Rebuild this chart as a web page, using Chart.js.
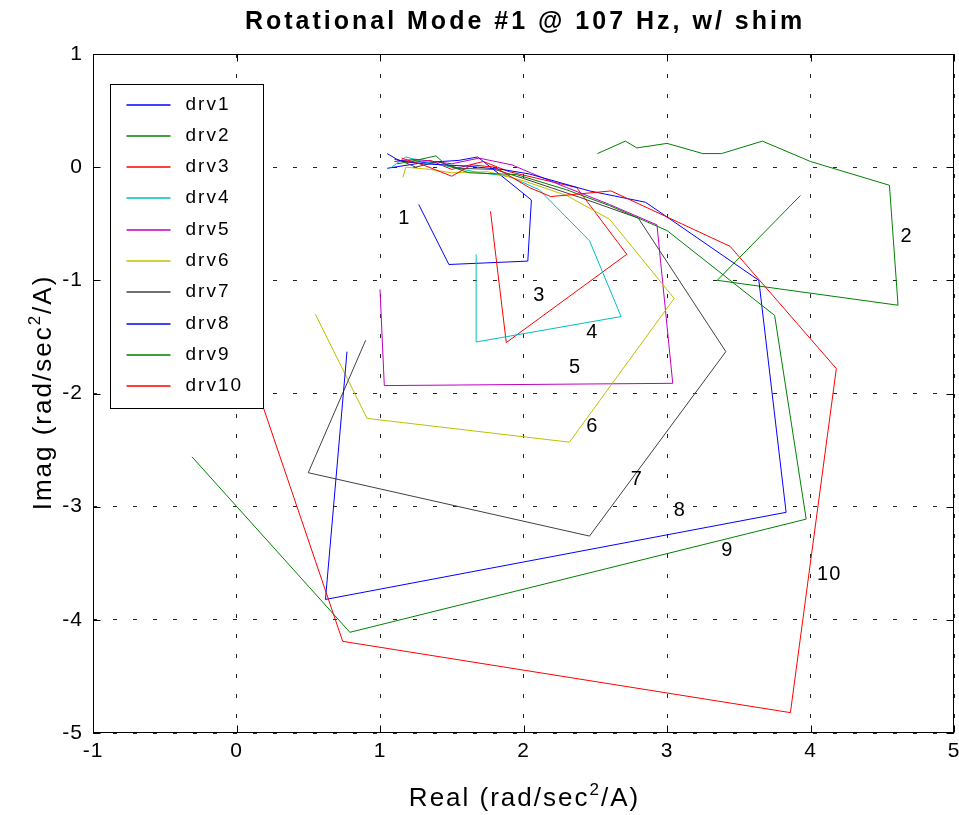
<!DOCTYPE html>
<html>
<head>
    <title>Rotational Mode #1 @ 107 Hz, w/ shim</title>
    <script src="https://cdn.jsdelivr.net/npm/chart.js"></script>
    <style>
        body { margin: 0; background: #fff; }
        canvas { display: block; }
    </style>
</head>
<body>
    <canvas id="myChart" width="959" height="815"></canvas>
    <script>
        // Points, [real, imag]
        const drv1 = [[1.05, -0.01], [1.3, 0.04], [1.55, 0.06], [1.68, 0.09], [1.85, -0.08], [2.055, -0.29], [2.03, -0.83], [1.48, -0.86], [1.27, -0.33]];
        const drv2 = [[2.515, 0.12], [2.71, 0.23], [2.79, 0.17], [3.0, 0.21], [3.25, 0.12], [3.38, 0.12], [3.665, 0.23], [4.0, 0.05], [4.55, -0.16], [4.61, -1.22], [3.35, -1.0], [3.93, -0.25]];
        const drv3 = [[1.1, 0.07], [1.2, 0.04], [1.35, 0.06], [1.5, -0.02], [1.72, 0.05], [1.9, -0.04], [2.1, -0.1], [2.37, -0.18], [2.72, -0.77], [1.88, -1.55], [1.77, -0.39]];
        const drv4 = [[1.08, 0.0], [1.18, 0.09], [1.3, 0.05], [1.5, 0.0], [1.7, -0.05], [1.9, -0.08], [2.11, -0.2], [2.46, -0.65], [2.68, -1.32], [1.67, -1.545], [1.67, -0.77]];
        const drv5 = [[1.1, 0.05], [1.25, 0.07], [1.5, 0.03], [1.69, 0.08], [1.92, 0.02], [2.05, -0.05], [2.3, -0.18], [2.6, -0.33], [2.93, -0.51], [3.04, -1.91], [1.03, -1.93], [1.0, -1.08]];
        const drv6 = [[1.16, -0.09], [1.18, 0.0], [1.35, -0.02], [1.5, -0.05], [1.75, -0.04], [2.0, -0.12], [2.3, -0.25], [2.6, -0.46], [3.05, -1.16], [2.32, -2.43], [0.91, -2.22], [0.55, -1.3]];
        const drv7 = [[1.12, 0.07], [1.25, 0.0], [1.4, 0.05], [1.55, -0.01], [1.8, -0.02], [2.0, -0.1], [2.4, -0.27], [2.8, -0.45], [3.41, -1.63], [2.46, -3.26], [0.5, -2.7], [0.9, -1.53]];
        const drv8 = [[1.05, 0.12], [1.13, 0.06], [1.3, 0.03], [1.6, 0.01], [1.85, -0.02], [2.04, -0.06], [2.46, -0.21], [2.85, -0.31], [3.0, -0.44], [3.64, -1.0], [3.83, -3.05], [0.62, -3.82], [0.77, -1.63]];
        const drv9 = [[1.12, 0.03], [1.25, 0.06], [1.39, 0.1], [1.46, 0.02], [1.62, -0.05], [1.95, -0.065], [2.3, -0.2], [2.6, -0.34], [2.8, -0.45], [3.0, -0.56], [3.75, -1.31], [3.97, -3.11], [0.79, -4.11], [-0.31, -2.56]];
        const drv10 = [[1.15, 0.08], [1.3, 0.02], [1.5, -0.08], [1.64, 0.02], [1.8, 0.0], [2.04, -0.18], [2.19, -0.26], [2.61, -0.21], [3.44, -0.7], [4.18, -1.78], [3.86, -4.82], [0.74, -4.19], [0.02, -1.5]];

        const seriesNames = ['drv1', 'drv2', 'drv3', 'drv4', 'drv5', 'drv6', 'drv7', 'drv8', 'drv9', 'drv10'];
        const seriesColors = ['#0000ff', '#008000', '#ff0000', '#00bfbf', '#bf00bf', '#bfbf00', '#404040', '#0000ff', '#008000', '#ff0000'];

        // the numbers written next to each loop
        const curveNames = ['1', '2', '3', '4', '5', '6', '7', '8', '9', '10'];
        const curveNameRe = [1.17, 4.67, 2.11, 2.48, 2.36, 2.48, 2.79, 3.09, 3.42, 4.13];
        const curveNameIm = [-0.45, -0.61, -1.13, -1.46, -1.77, -2.29, -2.76, -3.03, -3.39, -3.6];

        const xTicks = [-1, 0, 1, 2, 3, 4, 5];
        const yTicks = [-5, -4, -3, -2, -1, 0, 1];

        const FONT = "'Liberation Sans', Arial, Helvetica, sans-serif";

        function runWidth(ctx, r, spacing) {
            ctx.font = (r.bold ? 'bold ' : '') + r.size + 'px ' + FONT;
            ctx.letterSpacing = '0px';
            return ctx.measureText(r.text).width + spacing * r.text.length;
        }

        // centred text made of runs, so the "2" can be a superscript
        function drawRuns(ctx, runs, cx, baseY, spacing) {
            const widths = runs.map(r => runWidth(ctx, r, spacing));
            const total = widths.reduce((a, b) => a + b, 0) - spacing;
            let x = cx - total / 2;
            ctx.textAlign = 'left';
            ctx.textBaseline = 'alphabetic';
            ctx.letterSpacing = spacing + 'px';
            runs.forEach((r, i) => {
                ctx.font = (r.bold ? 'bold ' : '') + r.size + 'px ' + FONT;
                ctx.fillText(r.text, x, baseY + (r.dy || 0));
                x += widths[i];
            });
        }

        const matlabLook = {
            id: 'matlabLook',
            beforeDraw(chart) {
                chart.ctx.letterSpacing = '1px';
            },
            afterDraw(chart) {
                const ctx = chart.ctx;
                const area = chart.chartArea;
                const xs = chart.scales.x, ys = chart.scales.y;
                const L = Math.round(area.left) + 0.5, R = Math.round(area.right) - 0.5;
                const T = Math.round(area.top) + 0.5, B = Math.round(area.bottom) - 0.5;

                ctx.save();
                ctx.strokeStyle = '#000';
                ctx.lineWidth = 1;
                ctx.setLineDash([]);
                ctx.strokeRect(L, T, R - L, B - T);

                // tick marks on the inside of every side
                ctx.beginPath();
                xTicks.forEach(v => {
                    const px = Math.round(xs.getPixelForValue(v)) + 0.5;
                    ctx.moveTo(px, B); ctx.lineTo(px, B - 7);
                    ctx.moveTo(px, T); ctx.lineTo(px, T + 7);
                });
                yTicks.forEach(v => {
                    const py = Math.round(ys.getPixelForValue(v)) + 0.5;
                    ctx.moveTo(L, py); ctx.lineTo(L + 7, py);
                    ctx.moveTo(R, py); ctx.lineTo(R - 7, py);
                });
                ctx.stroke();

                // loop numbers
                ctx.fillStyle = '#000';
                ctx.font = '20px ' + FONT;
                ctx.letterSpacing = '1px';
                ctx.textAlign = 'center';
                ctx.textBaseline = 'middle';
                curveNames.forEach((t, i) => {
                    ctx.fillText(t, xs.getPixelForValue(curveNameRe[i]), ys.getPixelForValue(curveNameIm[i]));
                });

                // legend box inside the axes
                const lx = L + 17, ly = T + 30;
                ctx.fillStyle = '#fff';
                ctx.fillRect(lx, ly, 153, 324);
                ctx.strokeStyle = '#000';
                ctx.strokeRect(lx, ly, 153, 324);
                ctx.font = '19px ' + FONT;
                ctx.letterSpacing = '2px';
                ctx.textAlign = 'left';
                ctx.textBaseline = 'middle';
                seriesNames.forEach((name, i) => {
                    const y = Math.round(ly + 20 + i * 31.3);
                    ctx.strokeStyle = seriesColors[i];
                    ctx.lineWidth = 1.3;
                    ctx.beginPath();
                    ctx.moveTo(lx + 16, y);
                    ctx.lineTo(lx + 60, y);
                    ctx.stroke();
                    ctx.fillStyle = '#000';
                    ctx.fillText(name, lx + 75, y);
                });
                ctx.lineWidth = 1;

                // titles
                ctx.fillStyle = '#000';
                const cx = (area.left + area.right) / 2;
                drawRuns(ctx, [{ text: 'Rotational Mode #1 @ 107 Hz, w/ shim', size: 25, bold: true }], cx, 29, 3);
                drawRuns(ctx, [
                    { text: 'Real (rad/sec', size: 26 },
                    { text: '2', size: 17, dy: -11 },
                    { text: '/A)', size: 26 }
                ], cx, 806, 2);
                ctx.translate(51, (area.top + area.bottom) / 2);
                ctx.rotate(-Math.PI / 2);
                drawRuns(ctx, [
                    { text: 'Imag (rad/sec', size: 26 },
                    { text: '2', size: 17, dy: -11 },
                    { text: '/A)', size: 26 }
                ], 0, 0, 2);
                ctx.restore();
            }
        };

        const datasets = [drv1, drv2, drv3, drv4, drv5, drv6, drv7, drv8, drv9, drv10].map((pts, i) => ({
            label: seriesNames[i],
            data: pts.map(p => ({ x: p[0], y: p[1] })),
            borderColor: seriesColors[i],
            borderWidth: 1,
            showLine: true,
            fill: false,
            tension: 0,
            pointRadius: 0,
            order: -i
        }));

        const gridStyle = { color: '#222', lineWidth: 1, drawTicks: false };

        new Chart(document.getElementById('myChart'), {
            type: 'scatter',
            data: { datasets },
            options: {
                responsive: false,
                animation: false,
                devicePixelRatio: 1,
                layout: { padding: { top: 54, right: 5, left: 0, bottom: 0 } },
                plugins: {
                    legend: { display: false },
                    tooltip: { enabled: false },
                    title: { display: false }
                },
                scales: {
                    x: {
                        type: 'linear',
                        min: -1,
                        max: 5,
                        afterBuildTicks: s => { s.ticks = xTicks.map(v => ({ value: v })); },
                        afterFit: s => { s.height = 82; s.paddingLeft = 0; s.paddingRight = 0; },
                        grid: gridStyle,
                        border: { display: false, dash: [4, 16] },
                        ticks: { color: '#000', padding: 6, font: { family: FONT, size: 21 } }
                    },
                    y: {
                        type: 'linear',
                        min: -5,
                        max: 1,
                        afterBuildTicks: s => { s.ticks = yTicks.map(v => ({ value: v })); },
                        afterFit: s => { s.width = 93; },
                        grid: gridStyle,
                        border: { display: false, dash: [4, 16] },
                        ticks: { color: '#000', padding: 10, font: { family: FONT, size: 21 } }
                    }
                }
            },
            plugins: [matlabLook]
        });
    </script>
</body>
</html>
